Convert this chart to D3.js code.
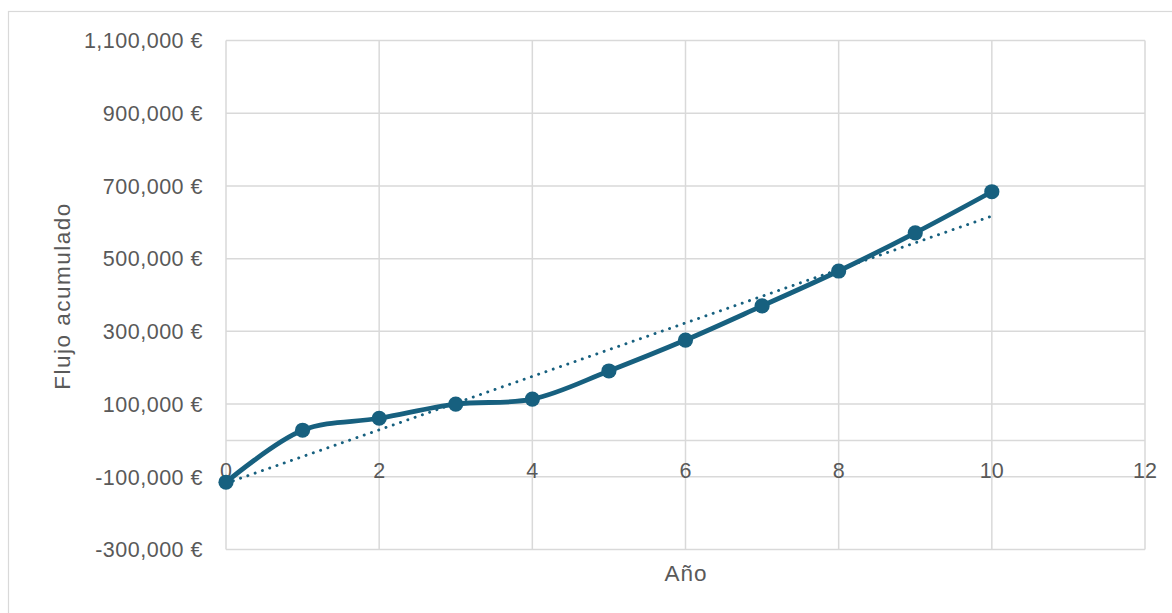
<!DOCTYPE html>
<html>
<head>
<meta charset="utf-8">
<script src="https://cdn.jsdelivr.net/npm/d3@7"></script>
<style>
  html, body { margin: 0; padding: 0; background: #fff; }
  svg { display: block; }
  text { font-family: "Liberation Sans", Arial, sans-serif; fill: #595959; }
</style>
</head>
<body>
<svg id="chart" width="1172" height="613"></svg>
<script>
const years = [0, 1, 2, 3, 4, 5, 6, 7, 8, 9, 10];
const flujo = [-115000, 28000, 61000, 100000, 113500, 191000, 276000, 370000, 466000, 571000, 684000];
const yTicks = [-300000, -100000, 100000, 300000, 500000, 700000, 900000, 1100000];
const xTicks = [0, 2, 4, 6, 8, 10, 12];
const xTitle = "Año";
const yTitle = "Flujo acumulado";

const W = 1172, H = 613;
const svg = d3.select("#chart");
const color = "#17607f";
const gridColor = "#d9d9d9";

// chart border
svg.append("rect").attr("x", 8.5).attr("y", 11.5).attr("width", W + 10).attr("height", H + 10)
  .attr("fill", "none").attr("stroke", gridColor).attr("stroke-width", 1.2);

const x = d3.scaleLinear().domain([0, 12]).range([226, 1145]);
const y = d3.scaleLinear().domain([-300000, 1100000]).range([549.5, 40.5]);

const fmt = v => d3.format(",")(v).replace("−", "-") + "\u00a0€";

// horizontal gridlines
svg.append("g").selectAll("line").data(yTicks).join("line")
  .attr("x1", x(0)).attr("x2", x(12))
  .attr("y1", d => y(d)).attr("y2", d => y(d))
  .attr("stroke", gridColor).attr("stroke-width", 1.5);

// vertical gridlines
svg.append("g").selectAll("line").data(xTicks).join("line")
  .attr("x1", d => x(d)).attr("x2", d => x(d))
  .attr("y1", y(1100000)).attr("y2", y(-300000))
  .attr("stroke", gridColor).attr("stroke-width", 1.5);

// x axis line at 0
svg.append("line").attr("x1", x(0)).attr("x2", x(12)).attr("y1", y(0)).attr("y2", y(0))
  .attr("stroke", gridColor).attr("stroke-width", 1.5);

// y tick labels
svg.append("g").selectAll("text").data(yTicks).join("text")
  .attr("x", 203).attr("y", d => y(d)).attr("dy", "0.36em")
  .attr("text-anchor", "end").attr("font-size", 21.5).attr("letter-spacing", "0.5px")
  .text(d => fmt(d));

// x tick labels (just below the axis at zero)
svg.append("g").selectAll("text").data(xTicks).join("text")
  .attr("x", d => x(d)).attr("y", y(0) + 30).attr("dy", "0.36em")
  .attr("text-anchor", "middle").attr("font-size", 21.5)
  .text(d => d);

// axis titles
svg.append("text").attr("x", 686).attr("y", 573).attr("dy", "0.36em")
  .attr("text-anchor", "middle").attr("font-size", 22.5).attr("letter-spacing", "1px").text(xTitle);
svg.append("text").attr("transform", "translate(62,296) rotate(-90)").attr("dy", "0.36em")
  .attr("text-anchor", "middle").attr("font-size", 22.5).attr("letter-spacing", "1.5px").text(yTitle);

// linear trendline from data (least squares)
const n = years.length;
const mx = d3.mean(years), my = d3.mean(flujo);
const slope = d3.sum(years, (xi, i) => (xi - mx) * (flujo[i] - my)) / d3.sum(years, xi => (xi - mx) ** 2);
const icpt = my - slope * mx;
const x0 = years[0], x1 = years[n - 1];
svg.append("line")
  .attr("x1", x(x0)).attr("y1", y(icpt + slope * x0))
  .attr("x2", x(x1)).attr("y2", y(icpt + slope * x1))
  .attr("stroke", color).attr("stroke-width", 2.9)
  .attr("stroke-linecap", "round").attr("stroke-dasharray", "0.1 7.6");

// smoothed series line
const pts = years.map((v, i) => [v, flujo[i]]);
const line = d3.line().x(d => x(d[0])).y(d => y(d[1])).curve(d3.curveCatmullRom.alpha(0.5));
svg.append("path").datum(pts).attr("d", line)
  .attr("fill", "none").attr("stroke", color).attr("stroke-width", 4.8)
  .attr("stroke-linejoin", "round").attr("stroke-linecap", "round");

// markers
svg.append("g").selectAll("circle").data(pts).join("circle")
  .attr("cx", d => x(d[0])).attr("cy", d => y(d[1])).attr("r", 7.6)
  .attr("fill", color);
</script>
</body>
</html>
